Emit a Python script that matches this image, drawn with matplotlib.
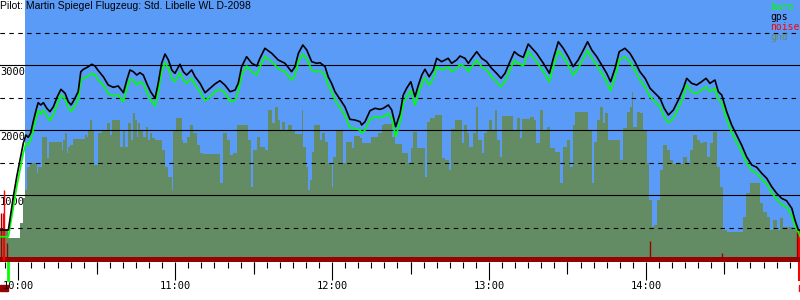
import numpy as np
import matplotlib
matplotlib.use("Agg")
import matplotlib.pyplot as plt
import matplotlib.transforms as mtransforms

# flight of 2098, times in minutes after 10:00, altitudes in m
title = "Pilot: Martin Spiegel Flugzeug: Std. Libelle WL D-2098"

track_t = [-7.0, -3.8, -1.9, -0.6, 0.65, 1.9, 2.9, 3.8, 4.7, 5.7, 6.8, 7.6, 8.6, 9.6, 10.9, 12.1, 13.4,
           14.9, 16.3, 17.9, 19.1, 20.2, 21.3, 22.9, 23.9, 24.9, 26.4, 28.1, 29.3, 30.6, 32.5, 34.4, 36.3,
           38.2, 40.2, 41.5, 42.7, 44.0, 45.3, 46.5, 47.8, 49.1, 50.6, 52.3, 53.5, 54.8, 56.1, 57.4, 58.7,
           59.9, 61.8, 63.1, 64.4, 66.3, 67.6, 69.5, 71.4, 73.3, 75.2, 77.1, 79.0, 81.0, 82.9, 84.1, 85.4,
           87.3, 89.3, 91.2, 92.4, 94.3, 96.9, 99.4, 102.0, 104.5, 105.8, 107.1, 108.8, 110.3, 112.2, 114.1,
           115.4, 117.3, 118.5, 119.8, 121.1, 123.0, 124.9, 126.8, 128.7, 130.7, 131.3, 132.6, 134.5, 136.4,
           138.3, 139.6, 141.5, 142.8, 144.3, 146.0, 147.2, 148.5, 150.1, 151.7, 153.0, 154.3, 155.5, 157.1,
           158.7, 160.0, 161.9, 164.4, 165.7, 167.6, 168.9, 170.8, 172.1, 173.4, 175.3, 177.2, 179.1, 181.0,
           182.9, 184.6, 186.1, 188.0, 189.7, 191.2, 193.1, 195.0, 198.2, 200.8, 203.1, 204.6, 206.5, 208.4,
           210.3, 212.2, 214.1, 216.1, 217.7, 219.3, 221.2, 223.1, 225.0, 226.5, 228.2, 229.8, 232.0, 233.9,
           235.8, 237.7, 239.7, 241.6, 243.5, 245.4, 247.0, 248.6, 250.5, 252.4, 254.3, 255.6, 257.5, 259.4,
           261.3, 263.0, 264.5, 266.4, 267.7, 269.0, 270.9, 272.8, 274.7, 276.6, 278.5, 280.5, 282.4, 284.3,
           286.2, 288.1, 290.0, 291.9, 293.8, 295.8, 297.0, 298.3, 299.0]

gps_alt = [462, 462, 974, 1282, 1538, 1795, 1923, 1888, 1949, 2128, 2308, 2420, 2385, 2420, 2334, 2282, 2358,
           2512, 2626, 2565, 2435, 2385, 2462, 2589, 2897, 2934, 2965, 3011, 2985, 2912, 2820, 2692, 2657,
           2677, 2574, 2769, 2923, 2897, 2846, 2882, 2846, 2718, 2589, 2488, 2718, 3026, 3169, 3077, 2923,
           2872, 3011, 2897, 2846, 2923, 2820, 2718, 2574, 2642, 2708, 2758, 2692, 2589, 2615, 2718, 2974,
           3128, 3026, 2985, 3103, 3257, 3180, 3077, 3026, 2897, 2974, 3180, 3308, 3231, 3051, 3026,
           3035, 2974, 2820, 2718, 2589, 2472, 2358, 2165, 2154, 2128, 2077, 2128, 2297, 2334,
           2318, 2334, 2385, 2308, 2051, 2257, 2538, 2642, 2743, 2512, 2692, 2846, 2934, 2820,
           2923, 3103, 3051, 3103, 3026, 3077, 3138, 3103, 3026, 3103, 3205, 3103, 3051, 2949,
           2872, 2795, 2872, 3051, 3205, 3154, 3118, 3323, 3180, 3026, 2872, 3103, 3358, 3257,
           3128, 2974, 3077, 3231, 3358, 3231, 3128, 3000, 2872, 2743, 2949, 3205, 3257, 3180,
           3051, 2897, 2795, 2642, 2565, 2488, 2334, 2231, 2308, 2462, 2642, 2795, 2718, 2692,
           2743, 2795, 2718, 2769, 2589, 2538, 2282, 2077, 1923, 1769, 1589, 1462, 1426, 1334,
           1257, 1128, 1026, 949, 912, 795, 615, 462, 462]

baro_alt = [358, 358, 805, 1128, 1385, 1641, 1795, 1769, 1846, 2000, 2180, 2297, 2246, 2308, 2215, 2143, 2231,
            2400, 2538, 2472, 2349, 2282, 2349, 2462, 2769, 2795, 2820, 2872, 2846, 2769, 2692, 2565, 2523,
            2538, 2435, 2642, 2780, 2769, 2692, 2743, 2708, 2589, 2462, 2369, 2589, 2897, 3035, 2949, 2795,
            2743, 2882, 2769, 2718, 2795, 2692, 2589, 2451, 2512, 2589, 2626, 2574, 2435, 2462, 2589, 2846,
            2985, 2897, 2846, 2974, 3128, 3050, 2947, 2896, 2767, 2844, 3050, 3170, 3100, 2921, 2896,
            2905, 2844, 2690, 2588, 2459, 2342, 2228, 2035, 2024, 1998, 1949, 1998, 2167, 2204,
            2188, 2204, 2255, 2178, 1897, 2127, 2408, 2512, 2605, 2382, 2562, 2716, 2804, 2690,
            2793, 2973, 2921, 2973, 2896, 2947, 3008, 2973, 2896, 2973, 3075, 2973, 2921, 2819,
            2742, 2665, 2742, 2921, 3075, 3024, 2988, 3205, 3050, 2896, 2742, 2973, 3220, 3127,
            2998, 2844, 2947, 3101, 3228, 3101, 2998, 2870, 2742, 2600, 2819, 3075, 3127, 3050,
            2921, 2767, 2665, 2512, 2435, 2358, 2204, 2112, 2178, 2332, 2512, 2692, 2588, 2562,
            2613, 2665, 2588, 2639, 2470, 2420, 2165, 1962, 1813, 1669, 1494, 1372, 1336, 1244,
            1167, 1038, 936, 854, 812, 685, 515, 435, 358]

gnd_t = [-7.0, -3.8, 0.65, 1.9, 2.56, 3.45, 4.47, 7.02, 7.66, 8.93, 10.85, 11.87, 16.58, 17.22, 17.86,
         18.49, 19.13, 19.77, 21.04, 25.5, 26.14, 26.78, 27.42, 28.05, 29.07, 30.6, 31.88, 33.79, 35.07,
         35.96, 38.89, 40.16, 40.8, 42.08, 42.97, 43.73, 44.63, 45.26, 45.9, 46.54, 47.81, 48.7, 49.47,
         50.36, 51.25, 52.27, 54.82, 56.1, 57.37, 58.65, 59.28, 60.3, 62.47, 63.11, 64.38, 65.66, 66.93,
         68.21, 69.48, 70.76, 77.13, 78.4, 79.68, 80.95, 82.23, 83.76, 87.97, 88.86, 89.88, 91.15, 92.43,
         94.34, 95.61, 96.89, 98.16, 99.18, 100.08, 100.71, 101.99, 103.26, 104.54, 105.81, 108.36, 109.0,
         109.89, 110.66, 111.55, 112.44, 113.2, 115.37, 116.26, 117.28, 118.56, 119.83, 120.47, 121.36,
         124.3, 125.19, 127.74, 128.5, 130.67, 131.31, 134.88, 137.68, 138.95, 139.97, 142.78, 144.05,
         146.86, 149.15, 150.04, 151.06, 152.34, 155.53, 156.42, 157.44, 159.35, 161.9, 163.17, 164.7,
         165.47, 167.0, 169.55, 170.57, 171.46, 172.35, 174.01, 174.9, 175.92, 177.2, 178.22, 179.11,
         180.0, 181.02, 182.3, 183.19, 184.21, 185.1, 189.3, 190.58, 191.85, 192.75,
         195.68, 197.21, 197.98, 199.5, 200.78, 202.05, 203.33, 205.24, 207.15, 208.17, 209.7, 210.98,
         212.0, 212.89, 217.99, 219.26, 220.15, 221.17, 222.45, 223.47, 224.36, 225.64, 230.1, 231.37,
         232.65, 233.92, 234.56, 235.2, 236.47, 237.75, 239.02, 240.3, 241.32, 242.21, 243.1, 244.12,
         245.39, 246.67, 247.94, 249.22, 250.49, 254.32, 255.59, 256.87, 258.14, 259.42, 260.69, 261.96,
         263.24, 264.51, 265.79, 267.06, 268.34, 269.61, 270.89, 277.26, 278.28, 279.81, 283.64, 284.91,
         286.19, 287.46, 288.73, 290.01, 291.29, 292.56, 296.38, 299.0]

gnd_alt = [462, 334, 569, 954, 1077, 1436, 1487, 1333, 1436, 1885, 1564, 1820, 1692, 1846, 1948,
           1641, 1743, 1769, 1856, 1923, 1897, 2000, 2154, 2000, 1461, 1948, 2000, 2113, 1923,
           2154, 1743, 2000, 1743, 2102, 1846, 2256, 2154, 1897, 2102, 2000, 1897, 2051, 1846,
           1948, 1872, 1846, 1692, 1436, 1282, 1077, 2000, 2179, 1846, 1795, 1897, 2077, 1948,
           1769, 1641, 1631, 1179, 1948, 1846, 1615, 1641, 2072, 1846, 1128, 1692, 1887, 1743,
           1692, 2307, 2102, 2359, 2154, 2000, 2128, 2000, 2077, 2000, 1938, 2307, 1743,
           1436, 1077, 1230, 1666, 2077, 1846, 1948, 1820, 1487, 1128, 1589, 1990,
           1487, 1820, 1718, 1907, 1872, 1795, 1897, 1948, 2077, 2092, 1897, 1784,
           1641, 1487, 1718, 1974, 1718, 1282, 2128, 2179, 2231, 1564, 1538, 1385,
           2010, 2154, 1795, 2077, 1948, 1733, 1948, 2359, 1846, 1641, 1948, 2000,
           2154, 2000, 2307, 1846, 1589, 2215, 2000, 2179, 1872, 2164,
           2195, 2154, 1795, 2307, 2000, 2051, 1718, 1666, 1179, 1743, 1846, 1436,
           2077, 2277, 2000, 1179, 1820, 2154, 2359, 2102, 2256, 1846, 1538, 2025,
           2282, 2359, 2590, 2051, 2282, 2256, 2000, 1487, 923, 513, 538, 923,
           1385, 1769, 1692, 1538, 1477, 1590, 1477, 1692, 1923, 1846, 1795, 1820,
           1590, 1795, 1974, 1436, 1128, 461, 436, 667, 1026, 1190, 872, 744,
           667, 461, 615, 461, 641, 513, 461, 461]

# engine noise level (0..1000)
noise_t = [-6.6, -4.3, 241.6, 269.1, 297.6]
noise_lvl = [181, 65, 74, 28, 108]
launch_noise_t = [-6.0, -5.5]
launch_noise_lvl = [181, 269]

takeoff_t = -3.9
landing_t = 298.4
sky_start = 2.56

hour_ticks = [0, 60, 120, 180, 240]
hour_labels = ['10:00', '11:00', '12:00', '13:00', '14:00']

SKY = '#5a9bf7'
GND = '#648c64'
DRED = '#990000'
BARO = '#00ff00'

fig = plt.figure(figsize=(8, 3), dpi=100)
ax = fig.add_axes([0, 38.5 / 300, 1, 261.5 / 300])
ax.set_xlim(-7.0, 298.93)
ax.set_ylim(-23, 4000)
ax.set_facecolor('white')
for s in ax.spines.values():
    s.set_visible(False)

ax.axvspan(sky_start, 298.93, color=SKY, lw=0, zorder=0)
ax.fill_between(gnd_t, 0, gnd_alt, step='post', color=GND, lw=0, zorder=1)

# altitude grid
ax.set_yticks([1000, 2000, 3000])
ax.set_yticks([500, 1500, 2500, 3500], minor=True)
ax.tick_params(axis='y', which='both', left=False, labelleft=False)
ax.set_axisbelow(False)
ax.grid(axis='y', which='major', color='black', lw=0.8)
ax.grid(axis='y', which='minor', color='black', lw=0.8, ls=(0, (4, 4)))
for v in [1000, 2000, 3000]:
    ax.annotate(str(v), (0, v), xycoords=('axes fraction', 'data'), xytext=(0, -5),
                textcoords='offset points', ha='left', va='center',
                family='DejaVu Sans Mono', fontsize=7.5, zorder=8)

# noise bars on their own scale
nax = ax.twinx()
nax.set_ylim(-23 / 4, 1000)
nax.axis('off')
nax.axhspan(-23 / 4, 51 / 4, color=DRED, lw=0, zorder=1)
nax.vlines(noise_t, 0, noise_lvl, color=DRED, lw=1)
nax.vlines(launch_noise_t, 0, launch_noise_lvl, color='#ff0000', lw=1)

nax.plot(track_t, np.array(baro_alt) / 4, color=BARO, lw=1.2, zorder=5)
nax.plot(track_t, np.array(gps_alt) / 4, color='black', lw=1.2, zorder=6)

# takeoff / landing marks below the axis
tr = mtransforms.blended_transform_factory(ax.transData, ax.transAxes)
ax.plot([takeoff_t, takeoff_t], [0, -18 / 261.5], color=BARO, lw=2, transform=tr, clip_on=False)
ax.plot([landing_t, landing_t], [0.115, -18 / 261.5], color='#ff0000', lw=1.5, transform=tr, clip_on=False)
ax.add_patch(plt.Rectangle((takeoff_t - 3.1, -29 / 261.5), 3.1, 6 / 261.5, color=DRED,
                           transform=tr, clip_on=False))
ax.add_patch(plt.Rectangle((landing_t, -29 / 261.5), 1.0, 6 / 261.5, color='#ff0000',
                           transform=tr, clip_on=False))

# time axis
ax.set_xticks(hour_ticks, hour_labels, family='DejaVu Sans Mono', fontsize=7.5)
ax.set_xticks(np.arange(-5, 299, 5), minor=True)
ax.tick_params(axis='x', which='major', direction='out', length=13, width=0.8, pad=1)
ax.tick_params(axis='x', which='minor', direction='out', length=4.3, width=0.8)
sec = ax.secondary_xaxis('bottom')
sec.set_xticks([30, 90, 150, 210, 270])
sec.tick_params(axis='x', direction='out', length=8.6, width=0.8, labelbottom=False)
sec.spines['bottom'].set_visible(False)

fig.text(0.0, 1 - 1 / 300, title, ha='left', va='top', family='Liberation Sans', fontsize=7.5)
for i, (name, col) in enumerate([('baro', BARO), ('gps', 'black'), ('noise', '#ff0000'), ('gnd', GND)]):
    fig.text(770 / 800, 1 - (7 + 10 * i) / 300, name, color=col, ha='left', va='center',
             family='DejaVu Sans Mono', fontsize=7)

fig.savefig('out.png', dpi=100)
